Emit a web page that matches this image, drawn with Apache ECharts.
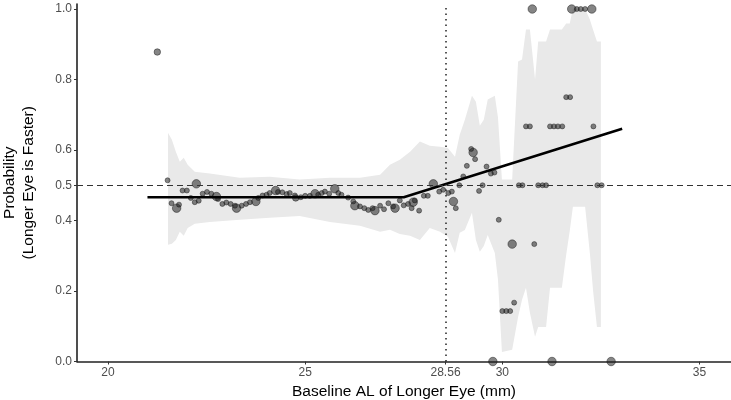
<!DOCTYPE html>
<html>
<head>
<meta charset="utf-8">
<script src="https://cdn.jsdelivr.net/npm/echarts@6/dist/echarts.min.js"></script>
<style>html,body{margin:0;padding:0;background:#fff}#chart{width:731px;height:400px}</style>
</head>
<body>
<div id="chart"></div>
<script>
// confidence band
var ribbonX = [21.52, 21.62, 21.72, 21.82, 21.92, 22.02, 22.20, 22.58, 23.34, 24.10,
  24.86, 25.63, 26.39, 26.90, 27.15, 27.40, 27.66, 27.91, 28.16, 28.42,
  28.62, 28.80, 28.92, 29.05, 29.23, 29.33, 29.43, 29.53, 29.63, 29.81,
  29.89, 29.99, 30.25, 30.40, 30.50, 30.60, 30.70, 30.83, 30.91, 31.11,
  31.21, 31.51, 31.62, 31.71, 31.79, 32.10, 32.22, 32.30, 32.40, 32.50];
var ribbonHigh = [0.649, 0.629, 0.595, 0.567, 0.578, 0.558, 0.538, 0.533, 0.521, 0.524,
  0.516, 0.521, 0.521, 0.530, 0.558, 0.572, 0.595, 0.624, 0.612, 0.609,
  0.606, 0.581, 0.643, 0.686, 0.754, 0.737, 0.669, 0.686, 0.743, 0.754,
  0.692, 0.516, 0.516, 0.851, 0.857, 0.942, 0.942, 0.800, 0.908, 0.908,
  0.942, 0.942, 0.959, 0.959, 1.0, 1.0, 0.97, 0.942, 0.908, 0.908];
var ribbonLow = [0.331, 0.334, 0.345, 0.368, 0.357, 0.379, 0.391, 0.396, 0.402, 0.408,
  0.413, 0.396, 0.385, 0.368, 0.374, 0.362, 0.357, 0.345, 0.379, 0.368,
  0.354, 0.308, 0.365, 0.373, 0.422, 0.345, 0.311, 0.328, 0.359, 0.308,
  0.232, 0.027, 0.033, 0.126, 0.175, 0.209, 0.138, 0.070, 0.098, 0.098,
  0.209, 0.209, 0.303, 0.370, 0.439, 0.439, 0.308, 0.203, 0.098, 0.098];

// observed proportions (size: 1 small, 2 medium, 3 large)
var pointX = [21.25, 21.51, 21.61, 21.74, 21.80, 21.89, 22.00, 22.10, 22.20, 22.24,
  22.30, 22.40, 22.51, 22.62, 22.75, 22.79, 22.90, 23.00, 23.11, 23.22,
  23.26, 23.39, 23.50, 23.60, 23.75, 23.81, 23.92, 24.02, 24.10, 24.25,
  24.31, 24.42, 24.53, 24.61, 24.74, 24.76, 24.89, 25.00, 25.12, 25.25,
  25.33, 25.42, 25.50, 25.61, 25.75, 25.84, 25.92, 26.09, 26.22, 26.26,
  26.39, 26.50, 26.60, 26.71, 26.77, 26.90, 27.00, 27.11, 27.23, 27.28,
  27.40, 27.50, 27.61, 27.70, 27.74, 27.78, 27.89, 28.01, 28.11, 28.25,
  28.40, 28.50, 28.63, 28.72, 28.76, 28.82, 28.91, 29.01, 29.10, 29.21,
  29.26, 29.31, 29.41, 29.50, 29.60, 29.71, 29.80, 29.76, 29.91, 30.00,
  30.10, 30.20, 30.25, 30.30, 30.42, 30.51, 30.60, 30.70, 30.76, 30.81,
  30.91, 31.02, 31.11, 31.21, 31.31, 31.41, 31.52, 31.26, 31.62, 31.72,
  31.76, 31.89, 31.99, 32.10, 32.27, 32.31, 32.41, 32.52, 32.76];
var pointY = [0.878, 0.514, 0.449, 0.435, 0.445, 0.485, 0.485, 0.464, 0.452, 0.504,
  0.456, 0.476, 0.481, 0.476, 0.468, 0.461, 0.447, 0.451, 0.447, 0.442,
  0.435, 0.442, 0.447, 0.452, 0.454, 0.464, 0.471, 0.473, 0.478, 0.485,
  0.481, 0.480, 0.475, 0.478, 0.471, 0.464, 0.466, 0.470, 0.470, 0.476,
  0.473, 0.478, 0.482, 0.476, 0.490, 0.478, 0.473, 0.465, 0.454, 0.442,
  0.440, 0.435, 0.430, 0.435, 0.428, 0.442, 0.432, 0.449, 0.440, 0.435,
  0.457, 0.443, 0.447, 0.435, 0.452, 0.457, 0.428, 0.470, 0.470, 0.504,
  0.482, 0.487, 0.478, 0.482, 0.454, 0.435, 0.500, 0.525, 0.555, 0.603,
  0.593, 0.574, 0.484, 0.500, 0.553, 0.533, 0.536, 0.0, 0.402, 0.143,
  0.143, 0.143, 0.333, 0.167, 0.500, 0.500, 0.667, 0.667, 1.0, 0.333,
  0.500, 0.500, 0.500, 0.667, 0.667, 0.667, 0.667, 0.0, 0.750, 0.750,
  1.0, 1.0, 1.0, 1.0, 1.0, 0.667, 0.500, 0.500, 0.0];
var pointN = [2, 1, 1, 3, 1, 1, 1, 1, 1, 3,
  1, 1, 1, 1, 3, 1, 1, 1, 1, 1,
  3, 1, 1, 1, 3, 1, 1, 1, 1, 3,
  1, 1, 1, 1, 1, 2, 1, 1, 1, 3,
  1, 1, 1, 1, 3, 1, 1, 1, 1, 3,
  1, 1, 1, 1, 3, 1, 1, 1, 1, 3,
  1, 1, 1, 1, 3, 1, 1, 1, 1, 3,
  1, 1, 1, 1, 3, 1, 1, 1, 1, 1,
  3, 1, 1, 1, 1, 1, 1, 3, 1, 1,
  1, 1, 3, 1, 1, 1, 1, 1, 3, 1,
  1, 1, 1, 1, 1, 1, 1, 3, 1, 1,
  3, 1, 1, 1, 3, 1, 1, 1, 3];

// segmented fit
var fitX = [21.0, 27.5, 33.04];
var fitY = [0.466, 0.466, 0.66];

var xTicks = [20, 25, 28.56, 30, 35];
var yTicks = [0, 0.2, 0.4, 0.5, 0.6, 0.8, 1.0];
var breakX = 28.56;
var refY = 0.5;

var sizeOf = {1: 5, 2: 6.5, 3: 8.5};
var points = pointX.map(function (x, i) { return [x, pointY[i], pointN[i]]; });
var fit = fitX.map(function (x, i) { return [x, fitY[i]]; });

var chart = echarts.init(document.getElementById('chart'));
chart.setOption({
  animation: false,
  textStyle: {fontFamily: 'Liberation Sans, Arial, sans-serif'},
  grid: {left: 77, right: 0, top: 4, bottom: 38.5, outerBoundsMode: 'none', containLabel: false},
  xAxis: {
    type: 'value',
    min: 19.213,
    max: 35.8,
    name: 'Baseline AL of Longer Eye (mm)',
    nameLocation: 'middle',
    nameGap: 20,
    nameTextStyle: {fontSize: 15.5, color: '#000'},
    axisLine: {show: true, onZero: false, lineStyle: {color: '#222', width: 1.6}},
    axisTick: {show: true, length: 3, customValues: xTicks, lineStyle: {color: '#333', width: 1}},
    axisLabel: {customValues: xTicks, fontSize: 12, color: '#4d4d4d', margin: 5},
    splitLine: {show: false}
  },
  yAxis: {
    type: 'value',
    min: 0,
    max: 1.0142,
    name: 'Probability\n(Longer Eye is Faster)',
    nameLocation: 'middle',
    nameRotate: 90,
    nameGap: 39,
    nameTextStyle: {fontSize: 15.5, color: '#000', lineHeight: 19},
    axisLine: {show: true, onZero: false, lineStyle: {color: '#222', width: 1.6}},
    axisTick: {show: true, length: 3, customValues: yTicks, lineStyle: {color: '#333', width: 1}},
    axisLabel: {
      customValues: yTicks, fontSize: 12, color: '#4d4d4d', margin: 5,
      formatter: function (v) { return v.toFixed(1); }
    },
    splitLine: {show: false}
  },
  series: [
    {
      type: 'custom',
      z: 1,
      silent: true,
      data: [0],
      renderItem: function (params, api) {
        var pts = [];
        for (var i = 0; i < ribbonX.length; i++) pts.push(api.coord([ribbonX[i], ribbonHigh[i]]));
        for (var j = ribbonX.length - 1; j >= 0; j--) pts.push(api.coord([ribbonX[j], ribbonLow[j]]));
        return {type: 'polygon', shape: {points: pts}, style: {fill: '#e9e9e9'}};
      }
    },
    {
      type: 'line',
      z: 2,
      data: [],
      markLine: {
        silent: true,
        symbol: 'none',
        label: {show: false},
        data: [
          {yAxis: refY, lineStyle: {type: [6, 4], color: '#333', width: 1.2}},
          {xAxis: breakX, lineStyle: {type: [1.5, 4], color: '#222', width: 1.5}}
        ]
      }
    },
    {
      type: 'scatter',
      z: 3,
      data: points,
      symbolSize: function (d) { return sizeOf[d[2]]; },
      itemStyle: {color: 'rgba(30,30,30,0.68)', borderColor: 'rgba(20,20,20,0.7)', borderWidth: 0.8}
    },
    {
      type: 'line',
      z: 4,
      data: fit,
      symbol: 'none',
      lineStyle: {color: '#000', width: 2.6}
    }
  ]
});
</script>
</body>
</html>
